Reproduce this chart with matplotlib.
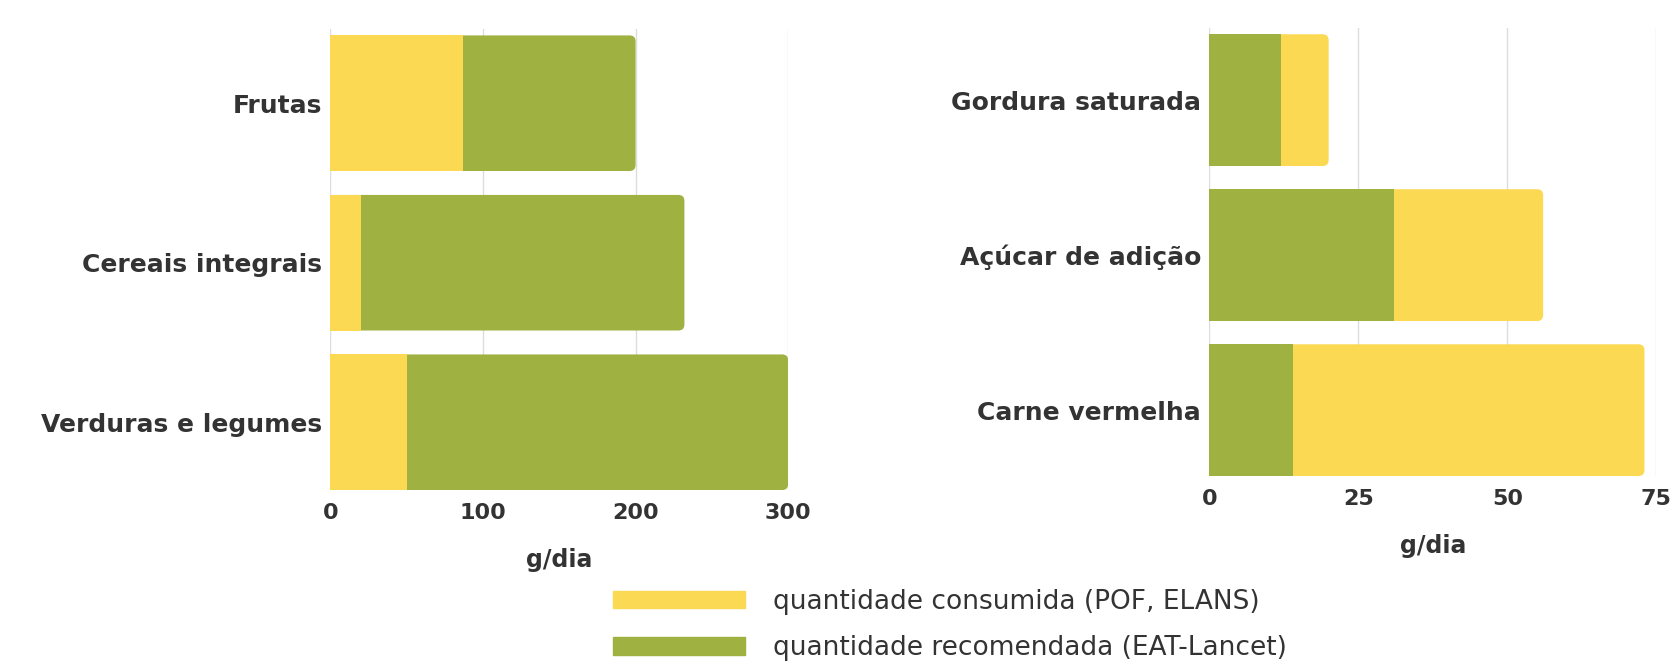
import matplotlib
matplotlib.use("Agg")
import matplotlib.pyplot as plt
from matplotlib.patches import Patch, FancyBboxPatch

# data (g/dia)
cat_left = ["Frutas", "Cereais integrais", "Verduras e legumes"]
cons_left = [87, 20, 50]
rec_left = [200, 232, 300]

cat_right = ["Gordura saturada", "Açúcar de adição", "Carne vermelha"]
cons_right = [20, 56, 73]
rec_right = [12, 31, 14]

ticks_left = [0, 100, 200, 300]
ticks_right = [0, 25, 50, 75]

YELLOW = "#FCD953"
GREEN = "#9EB141"
TXT = "#333333"
GRID = "#DDDDDD"
DPI = 100

fig = plt.figure(figsize=(16.77, 6.63), dpi=DPI)


def setup(ax, cats, ticks, xmax):
    ax.set_xlim(0, xmax)
    ax.set_ylim(len(cats) - 0.575, -0.465)
    ax.set_yticks(range(len(cats)))
    ax.set_yticklabels(cats, fontsize=18, fontweight="bold", color=TXT,
                       family="DejaVu Sans")
    ax.set_xticks(ticks)
    ax.set_xticklabels([str(t) for t in ticks], fontsize=16, fontweight="bold",
                       color=TXT, family="DejaVu Sans")
    ax.tick_params(length=0, axis="y", pad=6)
    ax.tick_params(length=0, axis="x", pad=9)
    for s in ax.spines.values():
        s.set_visible(False)
    ax.grid(axis="x", color=GRID, linewidth=1)
    ax.set_axisbelow(True)
    ax.set_xlabel("g/dia", fontsize=17, fontweight="bold", color=TXT,
                  family="DejaVu Sans", labelpad=18)


def round_bars(ax, bars, rad_px=6):
    # swap plain bars for ones with rounded corners (the front bar hides the left ones)
    pos = ax.get_position()
    x0, x1 = ax.get_xlim()
    y0, y1 = ax.get_ylim()
    xu = abs(x1 - x0) / (pos.width * fig.get_figwidth() * DPI)
    yu = abs(y1 - y0) / (pos.height * fig.get_figheight() * DPI)
    for b in bars:
        p = FancyBboxPatch((b.get_x(), b.get_y()), b.get_width(), b.get_height(),
                           boxstyle="round,pad=0,rounding_size=%f" % (rad_px * xu),
                           mutation_aspect=yu / xu, fc=b.get_facecolor(),
                           ec="none", zorder=b.get_zorder())
        b.remove()
        ax.add_patch(p)


# left chart: recommended behind, consumed in front
ax1 = fig.add_axes([0.197, 0.2609, 0.273, 0.6953])
back1 = ax1.barh(range(3), rec_left, height=0.85, color=GREEN)
ax1.barh(range(3), cons_left, height=0.85, color=YELLOW, zorder=3)
setup(ax1, cat_left, ticks_left, 300)
round_bars(ax1, back1)

# right chart: consumed behind, recommended in front
ax2 = fig.add_axes([0.7212, 0.282, 0.2665, 0.6757])
back2 = ax2.barh(range(3), cons_right, height=0.85, color=YELLOW)
ax2.barh(range(3), rec_right, height=0.85, color=GREEN, zorder=3)
setup(ax2, cat_right, ticks_right, 75)
round_bars(ax2, back2)

handles = [Patch(color=YELLOW), Patch(color=GREEN)]
labels = ["quantidade consumida (POF, ELANS)", "quantidade recomendada (EAT-Lancet)"]
fig.legend(handles, labels, loc="upper left", bbox_to_anchor=(0.3655, 0.112),
           frameon=False, borderpad=0, borderaxespad=0,
           handlelength=5.0, handleheight=0.65,
           handletextpad=1.05, labelspacing=0.78,
           prop={"family": "DejaVu Sans", "size": 19}, labelcolor=TXT)

fig.savefig("out.png", dpi=DPI)
